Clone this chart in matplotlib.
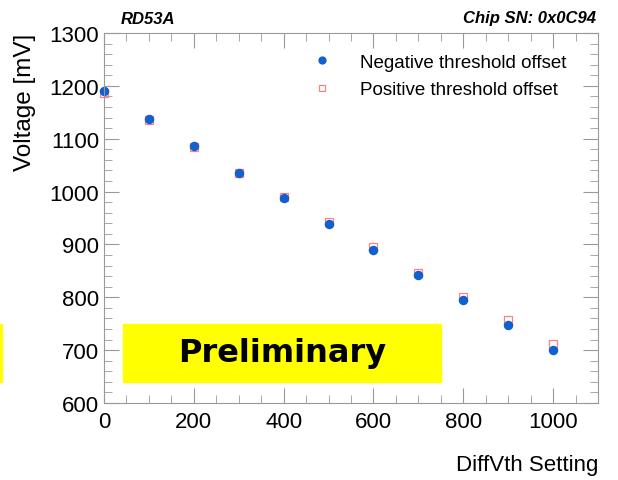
import matplotlib
matplotlib.use("Agg")
import matplotlib.pyplot as plt
from matplotlib.ticker import MultipleLocator
from matplotlib.patches import Rectangle

# DiffVth scan
diffvth = [0, 100, 200, 300, 400, 500, 600, 700, 800, 900, 1000]
v_neg = [1190, 1138, 1087, 1036, 987, 938, 890, 842, 795, 748, 700]
v_pos = [1187, 1135, 1085, 1035, 989, 942, 895, 846, 800, 757, 712]

plt.rcParams['font.family'] = ['Liberation Sans', 'DejaVu Sans']

fig = plt.figure(figsize=(6.18, 4.81), dpi=100)
ax = fig.add_axes([104/618, 1 - 404/481, (598-104)/618, (404-34)/481])

ax.plot(diffvth, v_pos, ls="none", marker="s", ms=5.5, mfc="none", mec="#ff8080",
        mew=0.9, label="Positive threshold offset", clip_on=False)
ax.plot(diffvth, v_neg, ls="none", marker="o", ms=5.8, color="#1060d0",
        mec="#1060d0", label="Negative threshold offset", clip_on=False)

ax.set_xlim(0, 1100)
ax.set_ylim(600, 1300)
ax.xaxis.set_major_locator(MultipleLocator(200))
ax.xaxis.set_minor_locator(MultipleLocator(50))
ax.yaxis.set_major_locator(MultipleLocator(100))
ax.yaxis.set_minor_locator(MultipleLocator(20))
ax.tick_params(which="both", direction="in", top=True, right=True, color="#999999",
               labelsize=16)
ax.tick_params(which="major", length=11)
ax.tick_params(which="minor", length=6)
ax.tick_params(axis="x", pad=6)
for s in ax.spines.values():
    s.set_color("#999999")

ax.set_ylabel("Voltage [mV]", fontsize=17.5, loc="top", labelpad=10)
fig.text(598/618, 1 - 466/481, "DiffVth Setting", fontsize=16, ha="right", va="center")

fig.text(121/618, 1 - 19/481, "RD53A", fontsize=12, fontweight="bold", style="italic",
         va="center")
fig.text(596/618, 1 - 19/481, "Chip SN: 0x0C94", fontsize=12, fontweight="bold",
         style="italic", ha="right", va="center")

h, l = ax.get_legend_handles_labels()
ax.legend(h[::-1], l[::-1], loc="upper left", bbox_to_anchor=(0.37, 0.99), frameon=False,
          fontsize=13.5, handletextpad=1.0, labelspacing=0.55, markerscale=0.85)

# Preliminary box
ax.add_patch(Rectangle((42, 640), 708, 110, color="#ffff00", zorder=3))
ax.text(396, 695, "Preliminary", fontsize=23, fontweight="bold", family="DejaVu Sans",
        ha="center", va="center", zorder=4)
fig.patches.append(Rectangle((0, 1 - 383/481), 2/618, 58/481, color="#ffff00",
                             transform=fig.transFigure, figure=fig))

fig.savefig("out.png", dpi=100)
